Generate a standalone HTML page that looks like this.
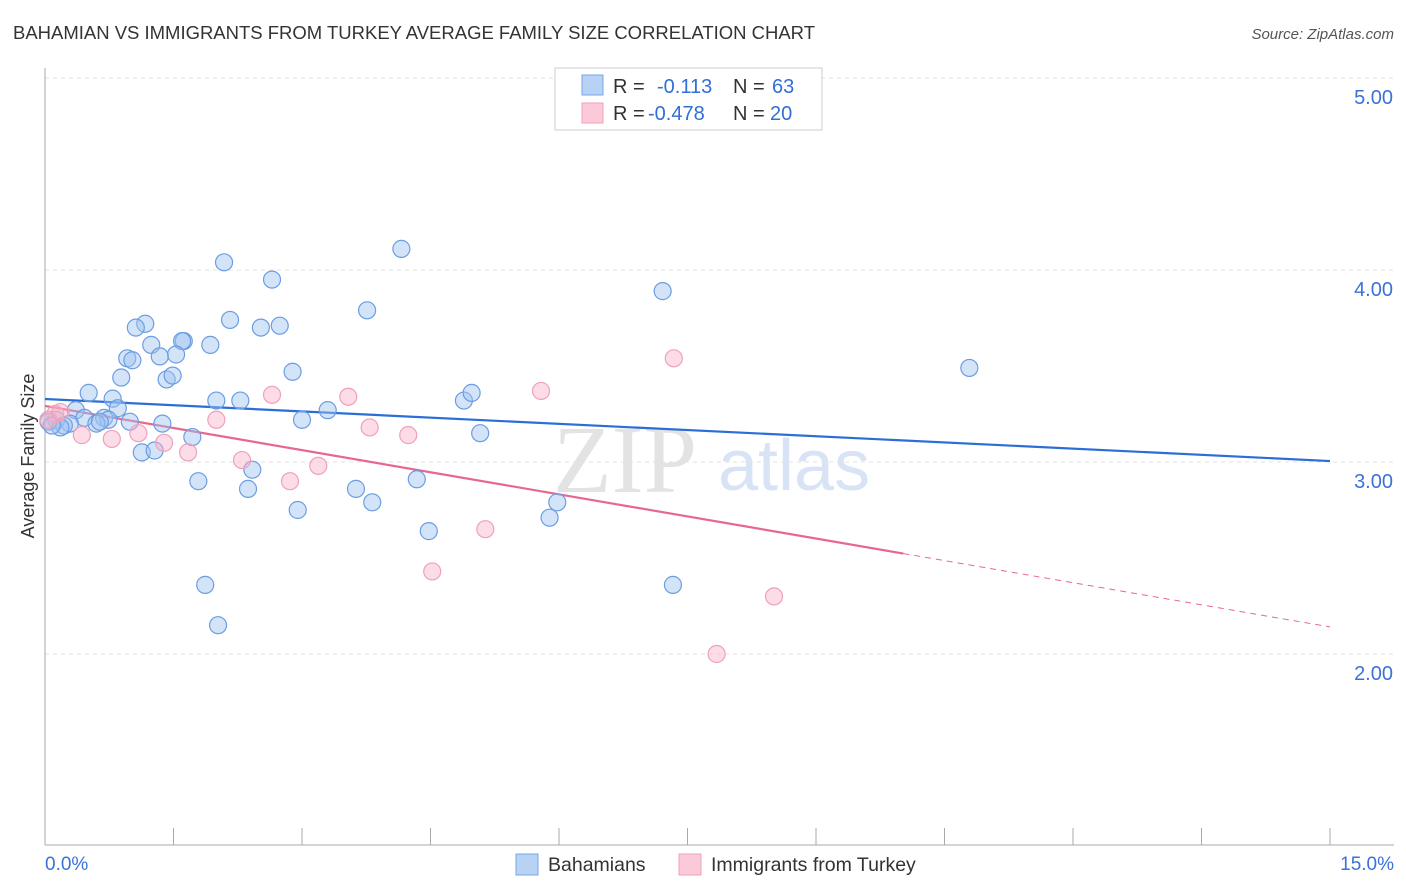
<!DOCTYPE html>
<html><head><meta charset="utf-8"><style>
body{margin:0;background:#fff;}
svg{display:block;font-family:"Liberation Sans",sans-serif;}
</style></head><body>
<svg id="chart" width="1406" height="892" viewBox="0 0 1406 892">
<text x="13" y="39" font-size="18" fill="#333" textLength="802" lengthAdjust="spacingAndGlyphs">BAHAMIAN VS IMMIGRANTS FROM TURKEY AVERAGE FAMILY SIZE CORRELATION CHART</text>
<text x="1394" y="39" font-size="15" fill="#555" font-style="italic" text-anchor="end">Source: ZipAtlas.com</text>
<g>
<text x="553" y="492" font-size="96" font-family="Liberation Serif,serif" fill="#d8d8d8" opacity="0.7">ZIP</text>
<text x="718" y="490" font-size="72" fill="#c8daf2" opacity="0.7">atlas</text>
</g>
<g id="grid"></g>
<g id="axes"></g>
<text transform="translate(34,456) rotate(-90)" font-size="18" fill="#333" text-anchor="middle">Average Family Size</text>
<g id="lines"></g>
<g id="points"></g>
<g>
<rect x="555" y="68" width="267" height="62" fill="#fff" stroke="#ccc"/>
<rect x="582" y="75" width="21" height="20" fill="#b8d2f5" stroke="#7aa6e6"/>
<rect x="582" y="103" width="21" height="20" fill="#fbcad8" stroke="#f0a0b8"/>
<text x="613" y="93" font-size="20" fill="#333">R = <tspan x="657" fill="#2f6fd6">-0.113</tspan><tspan x="733" fill="#333">N = </tspan><tspan x="772" fill="#2f6fd6">63</tspan></text>
<text x="613" y="120" font-size="20" fill="#333">R = <tspan x="648" fill="#2f6fd6">-0.478</tspan><tspan x="733" fill="#333">N = </tspan><tspan x="770" fill="#2f6fd6">20</tspan></text>
</g>
<g>
<rect x="516" y="854" width="22" height="21" fill="#b8d2f5" stroke="#7aa6e6"/>
<text x="548" y="871" font-size="19.5" fill="#333">Bahamians</text>
<rect x="679" y="854" width="22" height="21" fill="#fbcad8" stroke="#f0a0b8"/>
<text x="711" y="871" font-size="19.5" fill="#333">Immigrants from Turkey</text>
</g>
</svg>
<script>
const yTicks=[2,3,4,5];
const yTickLabels=["2.00","3.00","4.00","5.00"];
const xTicks=[0,1.5,3,4.5,6,7.5,9,10.5,12,13.5,15];
const blueX=[2.09,2.65,4.16,7.21,10.79,3.76,1.17,1.06,2.16,2.52,2.74,1.62,1.60,1.24,1.93,0.96,1.02,1.53,1.34,0.89,1.42,1.49,2.89,0.51,0.79,0.85,0.36,2.00,2.28,3.30,4.89,4.98,3.00,1.37,5.08,0.46,0.69,0.74,0.60,0.29,0.13,0.22,0.04,1.72,1.13,1.28,2.42,1.79,2.37,3.63,4.34,3.82,2.95,5.98,5.89,4.48,1.87,7.33,2.02,0.18,0.08,0.64,0.99];
const blueY=[4.04,3.95,4.11,3.89,3.49,3.79,3.72,3.70,3.74,3.70,3.71,3.63,3.63,3.61,3.61,3.54,3.53,3.56,3.55,3.44,3.43,3.45,3.47,3.36,3.33,3.28,3.27,3.32,3.32,3.27,3.32,3.36,3.22,3.20,3.15,3.23,3.23,3.22,3.20,3.20,3.22,3.19,3.21,3.13,3.05,3.06,2.96,2.90,2.86,2.86,2.91,2.79,2.75,2.79,2.71,2.64,2.36,2.36,2.15,3.18,3.19,3.21,3.21];
const pinkX=[7.34,5.79,2.65,3.54,2.00,3.79,4.24,1.09,1.39,0.78,0.43,1.67,2.30,3.19,2.86,5.14,4.52,8.51,7.84,0.12,0.04,0.18];
const pinkY=[3.54,3.37,3.35,3.34,3.22,3.18,3.14,3.15,3.10,3.12,3.14,3.05,3.01,2.98,2.90,2.65,2.43,2.30,2.00,3.25,3.22,3.26];
const blueTrend=[3.328,3.005];
const pinkTrend=[3.292,2.141];
const pinkSolidEnd=10.02;

const NS="http://www.w3.org/2000/svg";
const X0=45,X1=1330,PY5=78,PY2=654;
const sx=v=>X0+(v/15)*(X1-X0);
const sy=v=>PY5+(5-v)*(PY2-PY5)/3;
function mk(tag,attrs,parent){const e=document.createElementNS(NS,tag);for(const k in attrs)e.setAttribute(k,attrs[k]);parent.appendChild(e);return e;}
const grid=document.getElementById('grid'),axes=document.getElementById('axes'),lines=document.getElementById('lines'),pts=document.getElementById('points');
yTicks.forEach((t,i)=>{
 const l=mk('line',{x1:45,x2:1394,y1:sy(t),y2:sy(t),stroke:'#e2e2e2','stroke-dasharray':'4,4'},grid);
 
 
 const tx=mk('text',{x:1393,y:sy(t)+26,'font-size':20,fill:'#3a72d8','text-anchor':'end'},axes);
 tx.textContent=yTickLabels[i];
 
 
});
const ax=mk('line',{x1:45,x2:45,y1:68,y2:845,stroke:'#aaa'},axes);


const bx=mk('line',{x1:45,x2:1394,y1:845,y2:845,stroke:'#aaa'},axes);


xTicks.forEach(t=>{
 const l=mk('line',{x1:sx(t),x2:sx(t),y1:828,y2:845,stroke:'#aaa'},axes);
 
 
});
const xl0=mk('text',{x:45,y:870,'font-size':19,fill:'#3a72d8'},axes);
xl0.textContent=xTicks[0].toFixed(1)+'%';


const xl1=mk('text',{x:1394,y:870,'font-size':19,fill:'#3a72d8','text-anchor':'end'},axes);
xl1.textContent=xTicks[xTicks.length-1].toFixed(1)+'%';



function drawPts(xs,ys,fill,stroke,name){
 xs.forEach((x,i)=>{
  const c=mk('circle',{cx:sx(x),cy:sy(ys[i]),r:8.5,fill:fill,stroke:stroke,'stroke-width':1.2},pts);
  
  
 });
}
drawPts(blueX,blueY,'rgba(160,195,240,0.45)','#6b9de3','point-bahamian');
drawPts(pinkX,pinkY,'rgba(248,178,200,0.45)','#f0a0bb','point-turkey');

const bl=mk('line',{x1:sx(0),y1:sy(blueTrend[0]),x2:sx(15),y2:sy(blueTrend[1]),stroke:'#2a6ed6','stroke-width':2.2},lines);


const pAt=x=>pinkTrend[0]+(pinkTrend[1]-pinkTrend[0])*x/15;
const pl=mk('line',{x1:sx(0),y1:sy(pinkTrend[0]),x2:sx(pinkSolidEnd),y2:sy(pAt(pinkSolidEnd)),stroke:'#e8678f','stroke-width':2.2},lines);


const pd=mk('line',{x1:sx(pinkSolidEnd),y1:sy(pAt(pinkSolidEnd)),x2:sx(15),y2:sy(pinkTrend[1]),stroke:'#e8678f','stroke-width':1,'stroke-dasharray':'6,5'},lines);


</script>
</body></html>
